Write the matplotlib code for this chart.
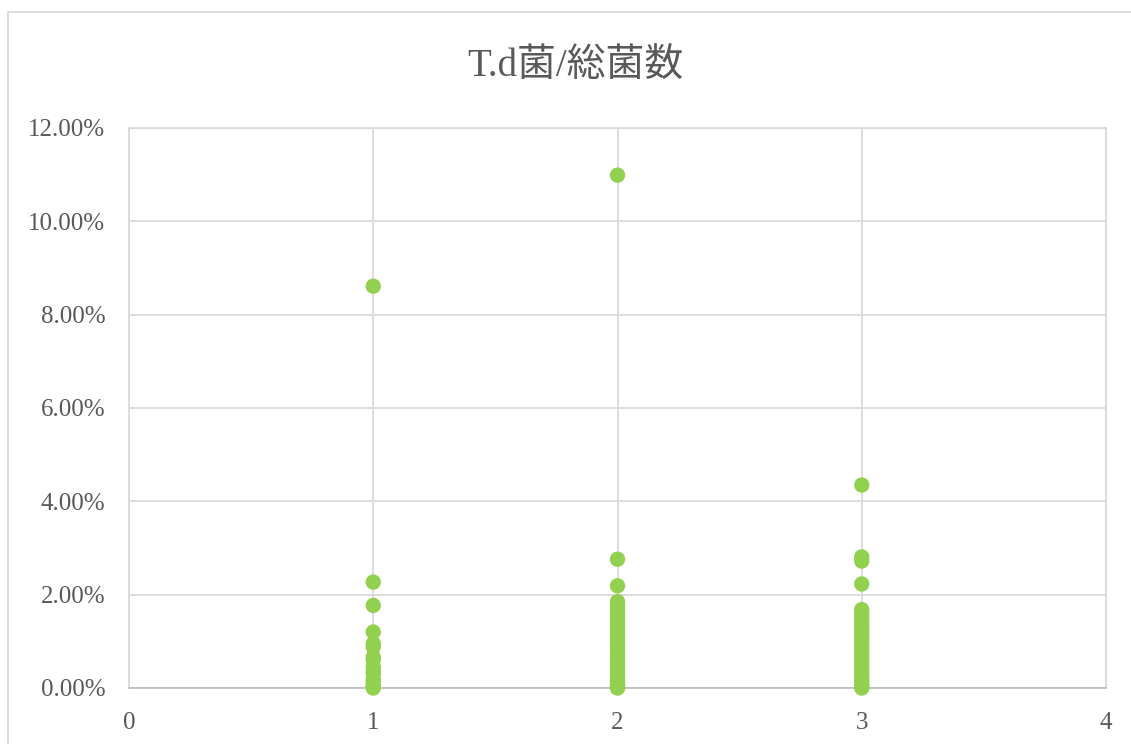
import numpy as np
import matplotlib.pyplot as plt
from matplotlib.patches import Rectangle
from matplotlib.ticker import FuncFormatter

# T.d菌/総菌数 (%), per group
group_x = [1, 2, 3]
group1 = [8.61, 2.27, 1.77, 1.20, 0.95, 0.88, 0.66, 0.60, 0.45, 0.36, 0.30,
          0.18, 0.12, 0.05, 0.02, 0.0]
group2 = [10.99, 2.76, 2.19, 1.85, 1.78, 1.70, 1.62, 1.55, 1.48, 1.40, 1.33,
          1.25, 1.18, 1.10, 1.02, 0.95, 0.88, 0.80, 0.72, 0.65, 0.58, 0.50,
          0.42, 0.35, 0.28, 0.20, 0.14, 0.08, 0.04, 0.01, 0.0]
group3 = [4.35, 2.81, 2.72, 2.23, 1.68, 1.60, 1.52, 1.44, 1.36, 1.28, 1.20,
          1.12, 1.05, 0.97, 0.89, 0.81, 0.73, 0.65, 0.57, 0.49, 0.41, 0.33,
          0.25, 0.18, 0.11, 0.06, 0.02, 0.0]
groups = [group1, group2, group3]

title = "T.d菌/総菌数"
x_ticks = [0, 1, 2, 3, 4]
y_ticks = [0, 0.02, 0.04, 0.06, 0.08, 0.10, 0.12]

text_color = "#595959"
grid_color = "#D9D9D9"
dot_color = "#92D050"

plt.rcParams['font.family'] = ['Liberation Serif', 'Noto Sans CJK JP']

fig = plt.figure(figsize=(11.31, 7.44), dpi=100)
ax = fig.add_axes([129/1131, 56/744, 977/1131, 560/744])

for gx, vals in zip(group_x, groups):
    ys = np.array(vals) / 100.0
    ax.scatter([gx] * len(ys), ys, s=122, color=dot_color, edgecolors='none',
               zorder=3, clip_on=False)

ax.set_xlim(0, 4)
ax.set_ylim(0, 0.12)
ax.set_xticks(x_ticks)
ax.set_yticks(y_ticks)
ax.yaxis.set_major_formatter(FuncFormatter(lambda v, p: "%.2f%%" % (v * 100)))
ax.grid(True, color=grid_color, linewidth=1.3)
ax.set_axisbelow(True)

for side in ['top', 'right', 'left']:
    ax.spines[side].set_color(grid_color)
    ax.spines[side].set_linewidth(1.3)
ax.spines['bottom'].set_color("#BFBFBF")
ax.spines['bottom'].set_linewidth(1.3)

ax.tick_params(axis='both', length=0, labelsize=18, colors=text_color)
ax.tick_params(axis='y', pad=17)
ax.tick_params(axis='x', pad=17)

fig.text(0.509, 0.910, title, ha='center', va='center', fontsize=28,
         color=text_color)

# chart area border (cut off at right and bottom)
fig.patches.append(Rectangle((8/1131, -0.05), 1.2, 1 - 12/744 + 0.05,
                             transform=fig.transFigure, fill=False,
                             edgecolor=grid_color, linewidth=1.3))

fig.savefig("out.png", dpi=100)
